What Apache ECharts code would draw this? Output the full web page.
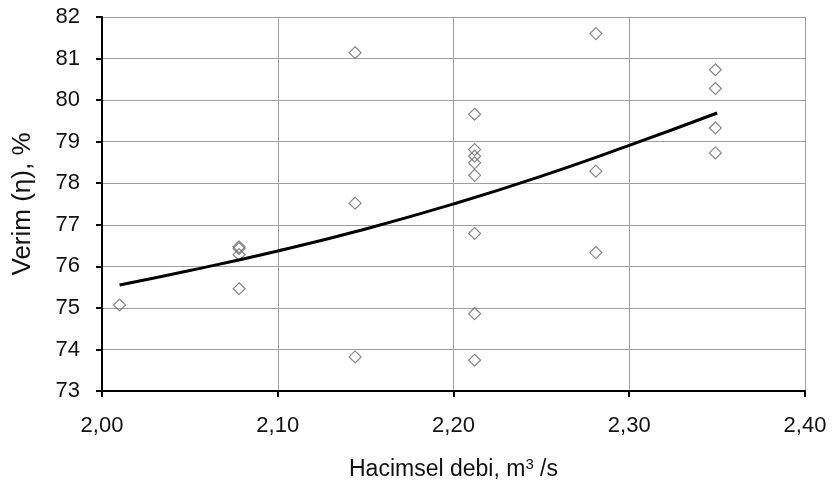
<!DOCTYPE html>
<html>
<head>
<meta charset="utf-8">
<script src="https://cdn.jsdelivr.net/npm/echarts@6/dist/echarts.min.js"></script>
<style>
  html, body { margin: 0; padding: 0; background: #fff; }
  #chart { width: 834px; height: 491px; }
</style>
</head>
<body>
<div id="chart"></div>
<script>
// Measured flow rate (m³/s) and efficiency (%) pairs
const flowRates = [
  2.010,
  2.078, 2.078, 2.078, 2.078,
  2.144, 2.144, 2.144,
  2.212, 2.212, 2.212, 2.212, 2.212, 2.212, 2.212, 2.212,
  2.281, 2.281, 2.281,
  2.349, 2.349, 2.349, 2.349
];
const efficiencies = [
  75.07,
  76.47, 76.43, 76.28, 75.46,
  81.14, 77.52, 73.82,
  79.66, 78.81, 78.65, 78.49, 78.19, 76.79, 74.86, 73.74,
  81.60, 78.29, 76.33,
  80.73, 80.28, 79.33, 78.73
];

// Trend curve through the measurements
const trendX = [2.010, 2.050, 2.100, 2.150, 2.200, 2.250, 2.300, 2.350];
const trendY = [75.55, 75.90, 76.37, 76.90, 77.50, 78.17, 78.91, 79.69];

// Axis tick values
const xTicks = [2.00, 2.10, 2.20, 2.30, 2.40];
const yTicks = [73, 74, 75, 76, 77, 78, 79, 80, 81, 82];

const points = flowRates.map((x, i) => [x, efficiencies[i]]);
const trend = trendX.map((x, i) => [x, trendY[i]]);

const font = 'Liberation Sans, Arial, sans-serif';

const chart = echarts.init(document.getElementById('chart'), null, { renderer: 'canvas' });
chart.setOption({
  animation: false,
  backgroundColor: '#ffffff',
  grid: { left: 102, right: 29, top: 17, bottom: 100, containLabel: false },
  xAxis: {
    type: 'value',
    min: xTicks[0],
    max: xTicks[xTicks.length - 1],
    interval: 0.1,
    name: 'Hacimsel debi, m{sup|3} /s',
    nameLocation: 'middle',
    nameGap: 66,
    nameTextStyle: {
      fontFamily: font, fontSize: 23, color: '#111', lineHeight: 26,
      rich: { sup: { fontFamily: font, fontSize: 15, color: '#111', lineHeight: 26, verticalAlign: 'top', padding: [0, 0, 10, 0] } }
    },
    axisLine: { show: true, onZero: false, lineStyle: { color: '#000', width: 2 } },
    axisTick: { show: true, inside: false, length: 6, lineStyle: { color: '#000', width: 2 } },
    axisLabel: {
      margin: 24, fontFamily: font, fontSize: 22, color: '#111',
      formatter: v => v.toFixed(2).replace('.', ',')
    },
    splitLine: { show: true, lineStyle: { color: '#a0a0a0', width: 1 } }
  },
  yAxis: {
    type: 'value',
    min: yTicks[0],
    max: yTicks[yTicks.length - 1],
    interval: 1,
    name: 'Verim (η), %',
    nameLocation: 'middle',
    nameGap: 66,
    nameTextStyle: { fontFamily: font, fontSize: 26, color: '#111' },
    axisLine: { show: true, onZero: false, lineStyle: { color: '#000', width: 2 } },
    axisTick: { show: true, inside: false, length: 6, lineStyle: { color: '#000', width: 2 } },
    axisLabel: { margin: 22, fontFamily: font, fontSize: 22, color: '#111' },
    splitLine: { show: true, lineStyle: { color: '#a0a0a0', width: 1 } }
  },
  series: [
    {
      type: 'scatter',
      data: points,
      symbol: 'diamond',
      symbolSize: 12,
      itemStyle: { color: 'rgba(255,255,255,0)', borderColor: '#6a6a6a', borderWidth: 1.2 },
      z: 2
    },
    {
      type: 'line',
      data: trend,
      smooth: true,
      showSymbol: false,
      lineStyle: { color: '#000', width: 3 },
      z: 3
    }
  ]
});
</script>
</body>
</html>
